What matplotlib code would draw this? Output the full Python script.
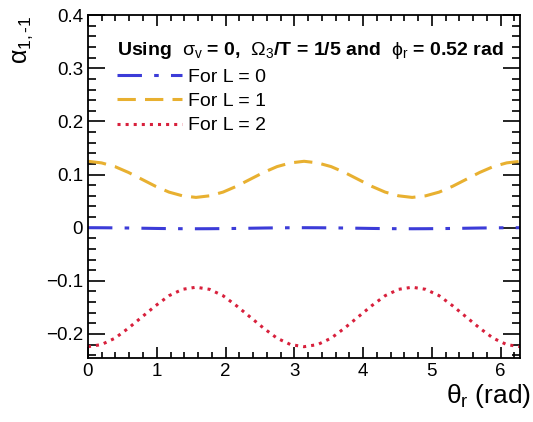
import numpy as np
import matplotlib
matplotlib.use('Agg')
import matplotlib.pyplot as plt
from matplotlib.ticker import MultipleLocator

plt.rcParams['font.family'] = ['Liberation Sans', 'DejaVu Sans']
plt.rcParams['mathtext.fontset'] = 'custom'
plt.rcParams['mathtext.rm'] = 'Liberation Sans'
plt.rcParams['mathtext.it'] = 'Liberation Sans'
plt.rcParams['mathtext.bf'] = 'Liberation Sans:bold'

# theta grid (rad), step pi/16
theta = np.linspace(0, 2 * np.pi, 33)

# values
alpha_L0 = [0.0, -0.0001, -0.0003, -0.0006, -0.001, -0.0014, -0.0017, -0.0019, -0.002,
            -0.0019, -0.0017, -0.0014, -0.001, -0.0006, -0.0003, -0.0001, 0.0,
            -0.0001, -0.0003, -0.0006, -0.001, -0.0014, -0.0017, -0.0019, -0.002,
            -0.0019, -0.0017, -0.0014, -0.001, -0.0006, -0.0003, -0.0001, 0.0]
alpha_L1 = [0.125, 0.122, 0.115, 0.104, 0.091, 0.078, 0.067, 0.060, 0.057,
            0.060, 0.067, 0.078, 0.091, 0.104, 0.115, 0.122, 0.125,
            0.122, 0.115, 0.104, 0.091, 0.078, 0.067, 0.060, 0.057,
            0.060, 0.067, 0.078, 0.091, 0.104, 0.115, 0.122, 0.125]
alpha_L2 = [-0.224, -0.220, -0.208, -0.189, -0.168, -0.147, -0.128, -0.116, -0.112,
            -0.116, -0.128, -0.147, -0.168, -0.189, -0.208, -0.220, -0.224,
            -0.220, -0.208, -0.189, -0.168, -0.147, -0.128, -0.116, -0.112,
            -0.116, -0.128, -0.147, -0.168, -0.189, -0.208, -0.220, -0.224]

labels = ['For L = 0', 'For L = 1', 'For L = 2']
title = r'Using  $\sigma_v$ = 0,  $\Omega_3$/T = 1/5 and  $\phi_r$ = 0.52 rad'

fig = plt.figure(figsize=(5.33, 4.22), dpi=100)
ax = fig.add_axes([0.165, 0.152, 0.811, 0.812])

ax.plot(theta, alpha_L0, color='#3c3cd8', lw=2.2, dashes=(8, 4, 1.5, 4), label=labels[0])
ax.plot(theta, alpha_L1, color='#e8b030', lw=2.2, dashes=(6, 3), label=labels[1])
ax.plot(theta, alpha_L2, color='#d8203c', lw=2.2, ls=':', label=labels[2])

ax.set_xlim(0, 2 * np.pi)
ax.set_ylim(-0.245, 0.4)
ax.xaxis.set_major_locator(MultipleLocator(1))
ax.xaxis.set_minor_locator(MultipleLocator(0.2))
ax.yaxis.set_major_locator(MultipleLocator(0.1))
ax.yaxis.set_minor_locator(MultipleLocator(0.02))
ax.set_yticks([-0.2, -0.1, 0, 0.1, 0.2, 0.3, 0.4])
ax.set_yticklabels(['\u22120.2', '\u22120.1', '0', '0.1', '0.2', '0.3', '0.4'])
ax.tick_params(which='both', direction='in', top=True, right=True, labelsize=13.5, width=1.2)
ax.tick_params(axis='y', which='major', length=12)
ax.tick_params(axis='y', which='minor', length=6)
ax.tick_params(axis='x', which='major', length=8)
ax.tick_params(axis='x', which='minor', length=4)
for s in ax.spines.values():
    s.set_linewidth(1.3)

ax.set_xlabel(r'$\theta_r$ (rad)', fontsize=19, labelpad=0)
ax.xaxis.set_label_coords(1.025, -0.07, transform=ax.transAxes)
ax.xaxis.label.set_horizontalalignment('right')
ax.set_ylabel(r'$\alpha_{1,\text{-}1}$', fontsize=18, loc='top', labelpad=8)

leg = ax.legend(loc='upper left', bbox_to_anchor=(0.05, 0.95), frameon=False,
                title=title, title_fontproperties={'weight': 'bold', 'size': 14},
                fontsize=14, handlelength=3.3, handletextpad=0.35, labelspacing=0.35,
                borderaxespad=0)
leg._legend_box.align = 'left'

fig.savefig('out.png', dpi=100)
